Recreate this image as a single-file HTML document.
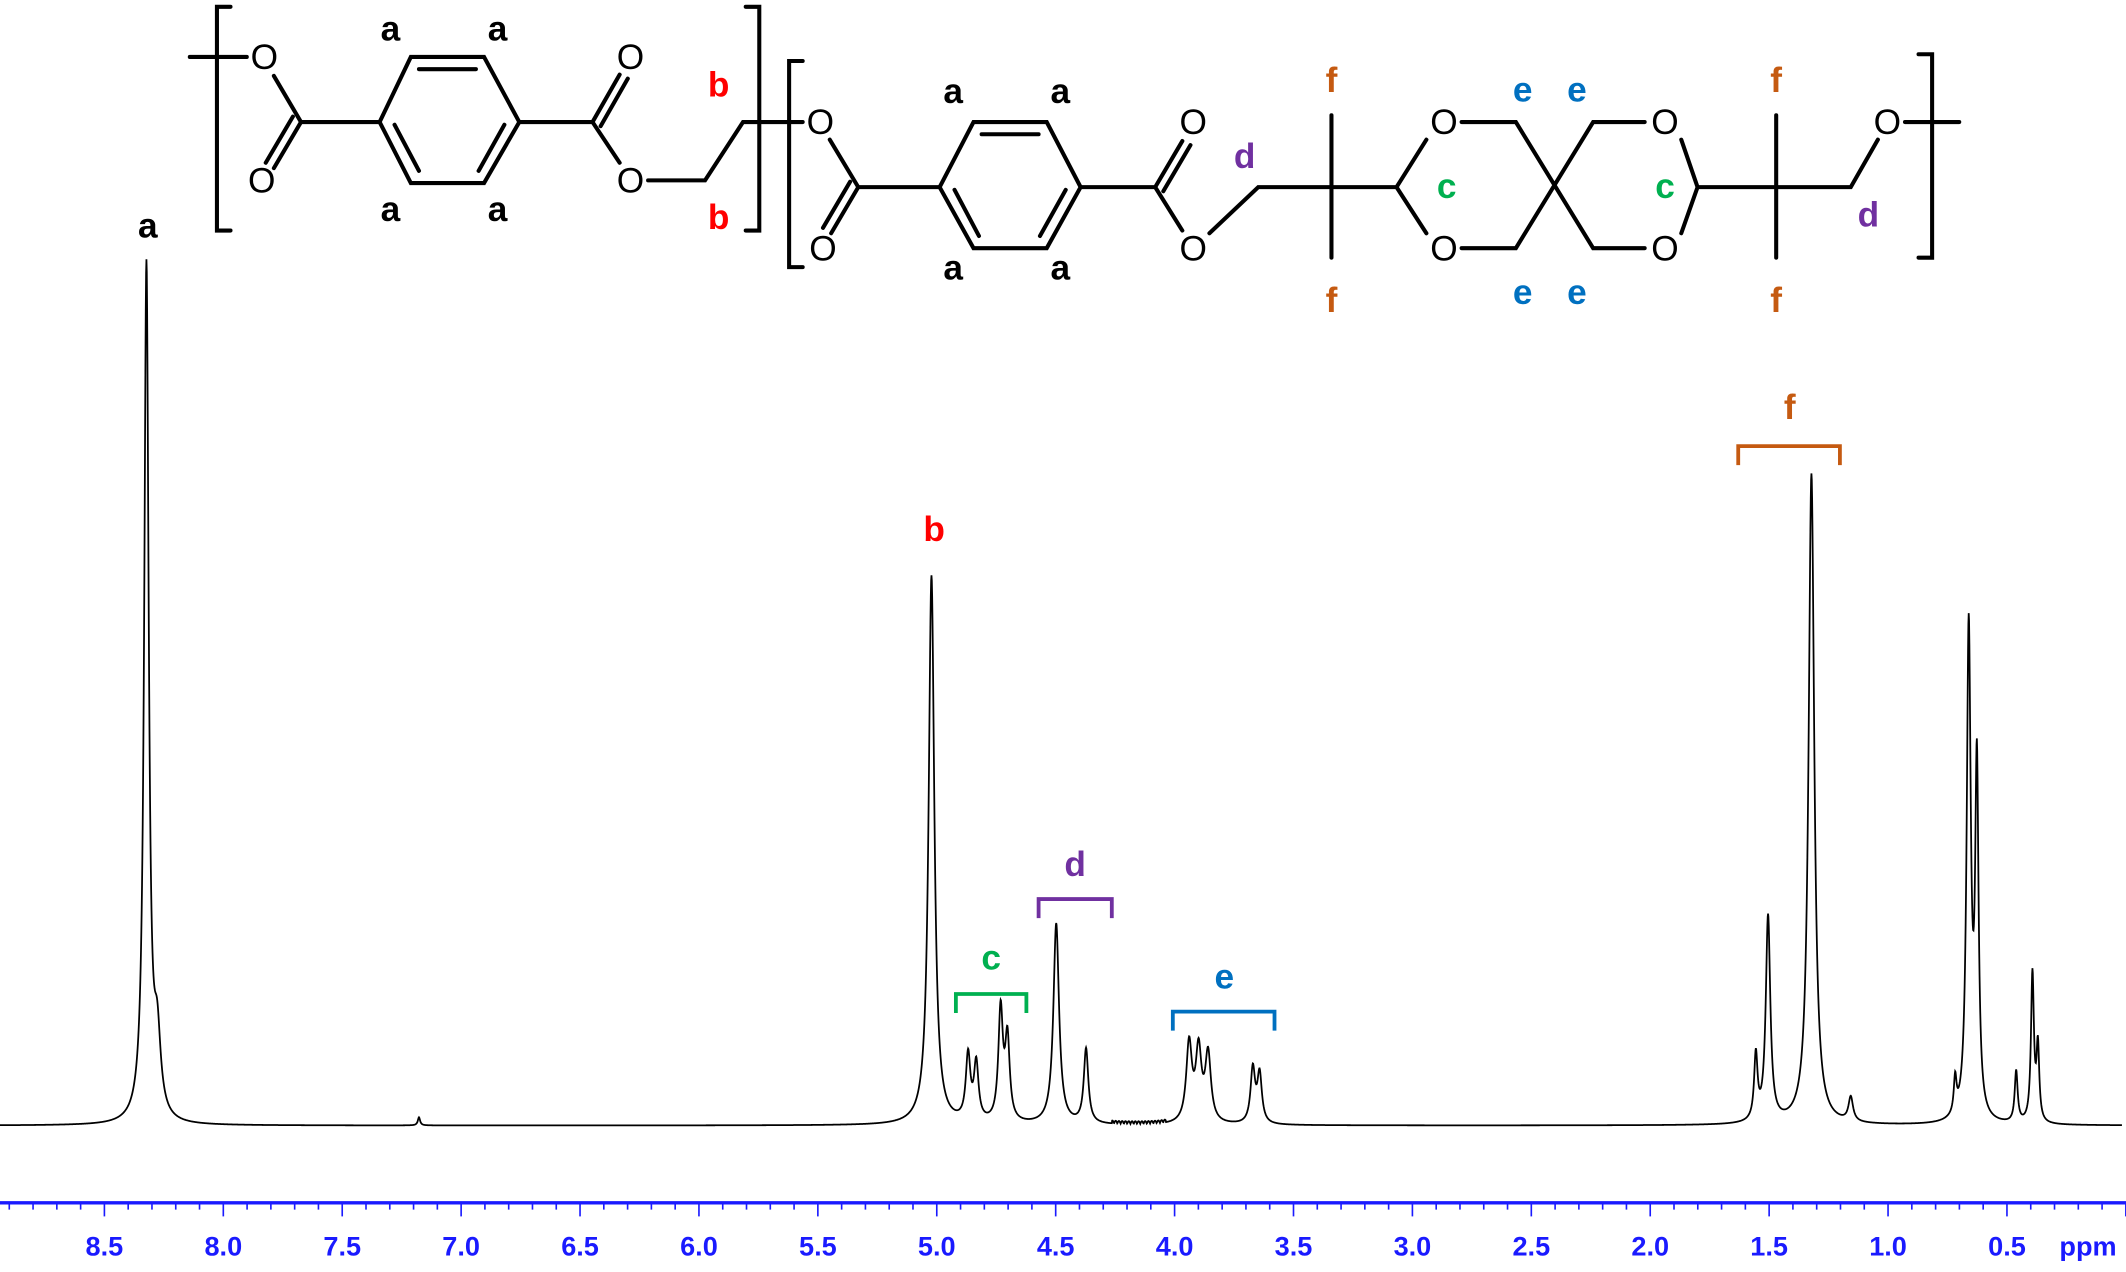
<!DOCTYPE html>
<html><head><meta charset="utf-8"><style>
html,body{margin:0;padding:0;background:#fff}
svg{display:block}
.l{font-family:"Liberation Sans",sans-serif;font-weight:bold;font-size:26px;text-anchor:middle}
.o{font-family:"Liberation Sans",sans-serif;font-size:26px;text-anchor:middle}
.ax{font-family:"Liberation Sans",sans-serif;font-weight:bold;font-size:20px;fill:#1a1aff;text-anchor:middle}
</style></head><body>
<svg id="s" width="2126" height="1272" viewBox="0 0 1568 938" preserveAspectRatio="none" xmlns="http://www.w3.org/2000/svg">
<g stroke="#000" stroke-width="3" fill="none" stroke-linecap="round">
<path d="M170,5 H160 V170 H170"/><path d="M550,5 H560 V170 H550"/>
<path d="M592,45 H582 V197 H592"/><path d="M1415,40 H1425 V190 H1415"/>
<path d="M140,42 H182"/>
<path d="M202,56 L222,90 L280,90"/>
<path d="M222,90 L202,124 M216,86 L196,120"/>
<path d="M280,90 L303,42 L357,42 L383,90 L357,135 L303,135 Z"/>
<path d="M309,51 H351 M291,92 L309,126 M372,92 L353,126"/>
<path d="M383,90 H437 L457,55 M443,93 L463,58 M437,90 L457,120"/>
<path d="M478,133 H520 L548,90 H592"/>
<path d="M612,103 L633,138 H693 M633,138 L613,172 M627,134 L607,168"/>
<path d="M693,138 L718,90 L772,90 L797,138 L772,183 L718,183 Z"/>
<path d="M724,99 H766 M704,140 L722,174 M786,140 L767,174"/>
<path d="M797,138 H852 L872,104 M858,141 L878,107 M852,138 L872,170"/>
<path d="M892,172 L928,138 H1030 L1052,103 M1030,138 L1052,172"/>
<path d="M982,85 V190 M1310,85 V190"/>
<path d="M1078,90 H1118 L1175,183 H1213 M1078,183 H1118 L1175,90 H1213"/>
<path d="M1240,103 L1252,138 L1240,172 M1252,138 H1365 L1385,103 M1405,90 H1445"/>
</g>
<g class="o">
<text x="195" y="51">O</text><text x="193" y="142">O</text><text x="465" y="51">O</text><text x="465" y="142">O</text>
<text x="605" y="99">O</text><text x="607" y="192">O</text><text x="880" y="99">O</text><text x="880" y="192">O</text>
<text x="1065" y="99">O</text><text x="1065" y="192">O</text><text x="1228" y="99">O</text><text x="1228" y="192">O</text><text x="1392" y="99">O</text>
</g>
<g class="l">
<text x="288" y="30">a</text><text x="367" y="30">a</text><text x="288" y="163">a</text><text x="367" y="163">a</text>
<text x="703" y="76">a</text><text x="782" y="76">a</text><text x="703" y="206">a</text><text x="782" y="206">a</text>
<text x="530" y="71" fill="#ff0000">b</text><text x="530" y="169" fill="#ff0000">b</text>
<text x="918" y="124" fill="#7030a0">d</text><text x="1378" y="167" fill="#7030a0">d</text>
<text x="982" y="68" fill="#c55a11">f</text><text x="982" y="230" fill="#c55a11">f</text>
<text x="1310" y="68" fill="#c55a11">f</text><text x="1310" y="230" fill="#c55a11">f</text>
<text x="1067" y="146" fill="#00b050">c</text><text x="1228" y="146" fill="#00b050">c</text>
<text x="1123" y="75" fill="#0070c0">e</text><text x="1163" y="75" fill="#0070c0">e</text>
<text x="1123" y="224" fill="#0070c0">e</text><text x="1163" y="224" fill="#0070c0">e</text>
<text x="109" y="175">a</text>
<text x="689" y="399" fill="#ff0000">b</text>
<text x="731" y="715" fill="#00b050">c</text>
<text x="793" y="646" fill="#7030a0">d</text>
<text x="903" y="729" fill="#0070c0">e</text>
<text x="1320" y="309" fill="#c55a11">f</text>
</g>
<g fill="none" stroke-width="2.8">
<path d="M705,747 V733 H757 V747" stroke="#00b050"/>
<path d="M766,677 V663 H820 V677" stroke="#7030a0"/>
<path d="M865,760 V746 H940 V760" stroke="#0070c0"/>
<path d="M1282,343 V329 H1357 V343" stroke="#c55a11"/>
</g>
<path id="spec" d="" fill="none" stroke="#000" stroke-width="1.3"/>
<g id="axis" stroke="#1a1aff" fill="none">
<line x1="0" y1="887" x2="1568" y2="887" stroke-width="2.5"/>
</g>
<g id="axl"></g>
</svg>
<script>
var pk=[[108,632,2.0],[116,55,3],[309,6,1],[687,405,2.5],[714,48,2],[720,42,2],[738,82,2],[743,60,2],
[779,148,2.5],[801,55,2],[877,58,2.5],[884,52,2.5],[891,50,2.5],[924,40,2],[929,36,2],
[1295,48,1.5],[1304,152,2],[1336,480,2.5],[1365,18,2],[1442,26,1.2],[1452,362,1.8],[1458,255,1.5],
[1487,38,1.3],[1499,110,1.3],[1503,55,1.2]];
var d="";
for(var x=0;x<=1565;x+=0.25){var y=830;for(var i=0;i<pk.length;i++){var t=(x-pk[i][0])/pk[i][2];y-=pk[i][1]/(1+t*t);}
if(x>820&&x<860)y-=2*Math.abs(Math.sin(x*1.3));
d+=(x==0?"M":"L")+x+","+y.toFixed(2);}
document.getElementById("spec").setAttribute("d",d);
var ns="http://www.w3.org/2000/svg",g=document.getElementById("axis"),gl=document.getElementById("axl");
for(var k=0;k<=90;k++){var ppm=8.9-k*0.1;var xx=77+(8.5-ppm)*175.4;if(xx<0||xx>1568)continue;
var maj=Math.abs(Math.round(ppm*2)-ppm*2)<0.01;var ln=document.createElementNS(ns,"line");
ln.setAttribute("x1",xx);ln.setAttribute("x2",xx);ln.setAttribute("y1",887);ln.setAttribute("y2",maj?897:892);ln.setAttribute("stroke-width",1.2);g.appendChild(ln);
if(maj&&ppm>0.4){var t=document.createElementNS(ns,"text");t.setAttribute("x",xx);t.setAttribute("y",926);t.setAttribute("class","ax");t.textContent=ppm.toFixed(1);gl.appendChild(t);}}
var t=document.createElementNS(ns,"text");t.setAttribute("x",1540);t.setAttribute("y",926);t.setAttribute("class","ax");t.textContent="ppm";gl.appendChild(t);
</script>
</body></html>
